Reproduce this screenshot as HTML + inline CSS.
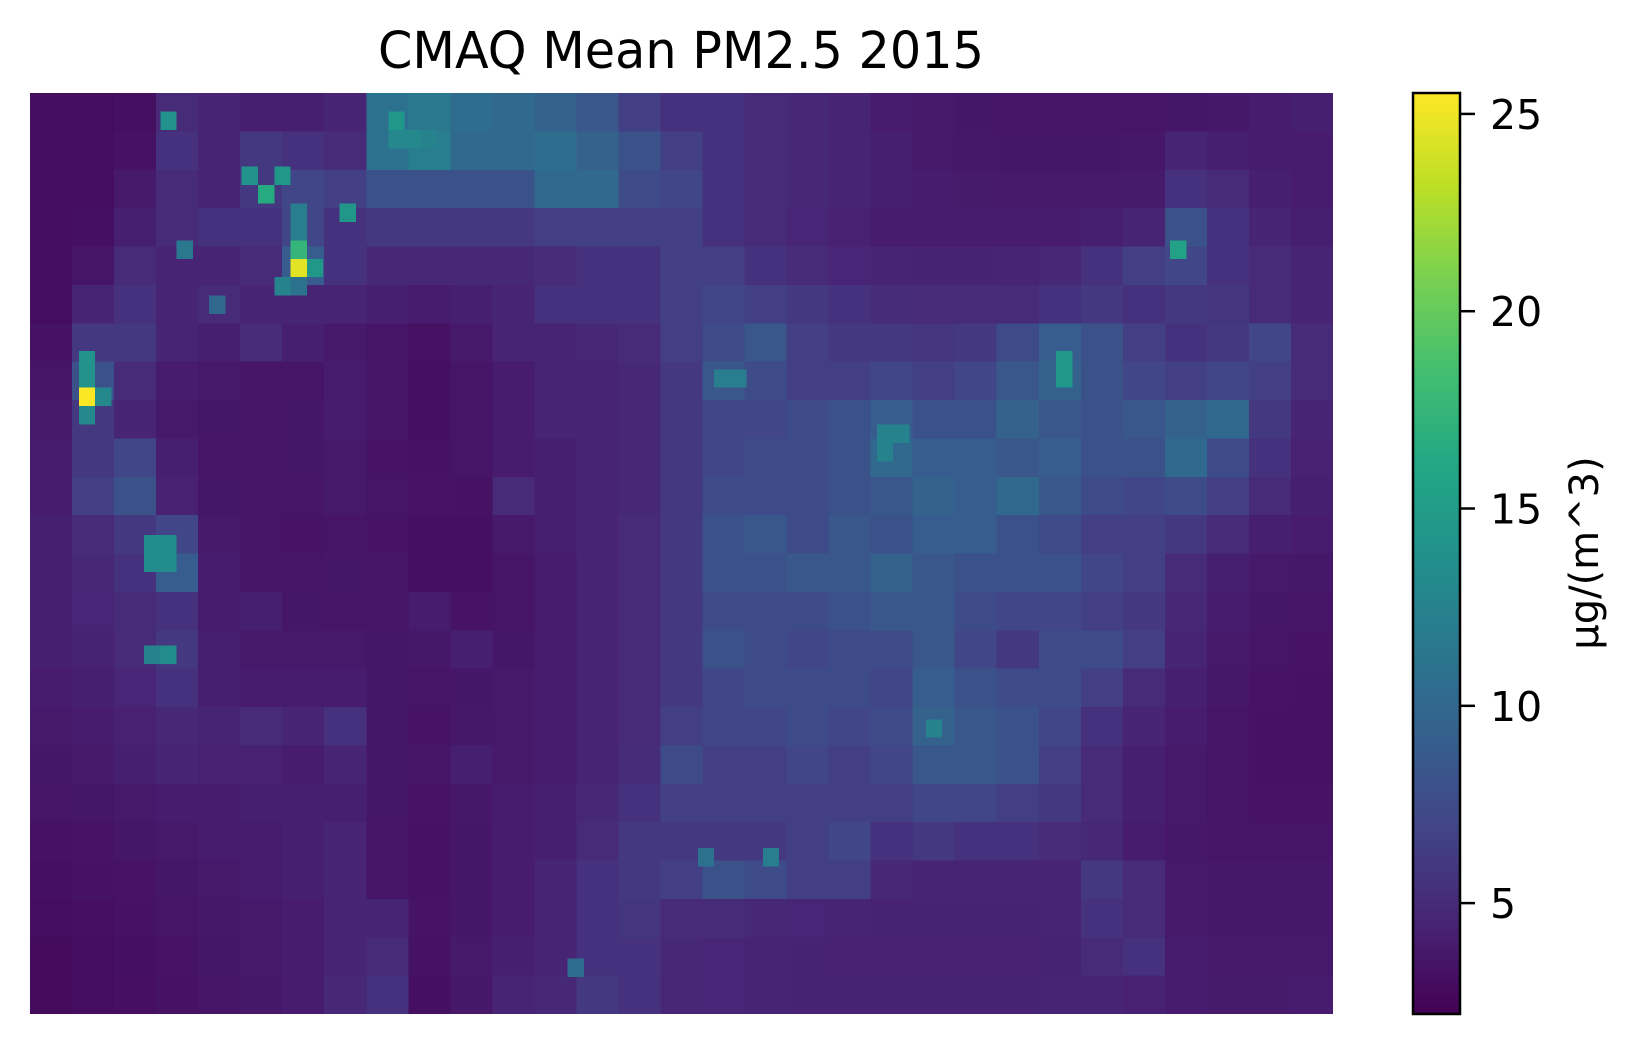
<!DOCTYPE html>
<html><head><meta charset="utf-8"><style>
html,body{margin:0;padding:0;background:#fff;}
svg{display:block;font-family:"DejaVu Sans","Liberation Sans",sans-serif;}
</style></head><body>
<svg id="chart" width="1628" height="1047" viewBox="0 0 1628 1047">
<rect width="1628" height="1047" fill="#fff"/>
<text x="681" y="68" font-size="51" text-anchor="middle" textLength="606" lengthAdjust="spacingAndGlyphs" fill="#000">CMAQ Mean PM2.5 2015</text>
<g id="cells" shape-rendering="crispEdges"></g>
<g id="hot" shape-rendering="crispEdges"></g>
<defs><linearGradient id="vir" x1="0" y1="1" x2="0" y2="0"></linearGradient></defs>
<rect x="1413" y="93" width="47" height="921" fill="url(#vir)" stroke="#000" stroke-width="2.5"/>
<g id="cbticks"></g>
<text transform="translate(1598,553) rotate(-90)" font-size="40" text-anchor="middle" fill="#000">µg/(m^3)</text>
</svg>
<script>
const vmin = 2.19, vmax = 25.53;
const cbTicks = [5, 10, 15, 20, 25];
// coarse grid: 31 columns x 24 rows (µg/m^3)
const grid = [
[3.0,3.0,3.2,5.0,4.5,4.2,4.2,4.5,11,11.5,10.5,10,9.5,8.5,6.5,5.5,5.5,5.0,4.8,4.5,4.0,3.8,3.6,3.5,3.5,3.5,3.5,3.6,3.7,4.0,4.2],
[3.0,3.0,3.3,5.5,4.5,6,5.5,5,11,12,10,10,10.5,9.5,8,6.5,5.5,5,4.8,4.5,4.2,3.8,3.7,3.6,3.6,3.6,3.7,4.5,4.2,4.0,4.0],
[3.0,3.0,3.8,5,4.5,6,7,6.5,8,8,8,8,10,10,7.5,7,5.5,5,4.8,4.5,4.2,4.0,3.9,3.8,3.8,3.8,3.9,5.5,5,4.2,4.0],
[3.0,3.2,4.2,5,5.5,5.5,7,5.5,6,6,6,6,6.5,6.5,6.5,6.5,5.5,5,4.6,4.3,4.0,4.0,4.0,4.0,4.0,4.2,4.5,8,5.5,4.5,4.2],
[3.0,3.5,5,4.5,4.5,5,9,5.5,4.8,4.8,4.8,4.8,5,5.5,5.5,6.5,6.5,5.5,5,4.6,4.5,4.4,4.4,4.5,4.8,5.5,6.5,7,5.5,5,4.5],
[3.0,4.5,5.5,4.5,5.0,4.5,4.5,4.5,4.2,4.0,4.2,4.5,5.5,5.5,5.5,6.5,7,6.5,6,5.5,5.2,5.0,5.0,5.0,5.5,6,5.5,6,5.8,5.0,4.5],
[3.3,6,6,4.5,4.2,5,4.2,3.8,3.5,3.3,3.8,4.5,4.5,4.8,5,6.5,7.5,8.5,6.5,6,6,5.8,6,7.5,9,8,6.5,5.5,6,7,5],
[3.5,8,5,4,3.8,3.5,3.5,4,3.5,3.2,3.5,4,4.5,4.5,4.8,6,8.5,7.5,6.5,6.5,7,6.5,7,8.5,9.5,8,7,6.5,7,6.5,5],
[3.8,6,4.5,3.8,3.6,3.5,3.6,4,3.5,3.2,3.5,4,4.5,4.5,4.8,6,7,7,7.5,8,9,8,8,9.5,8.5,8,8.5,9.5,10,6,4.5],
[4,6,7,4.2,3.5,3.5,3.6,3.8,3.4,3.3,3.5,4,4.2,4.5,4.8,6,7,7.5,7.5,8,10,9,9,8.5,9,8,8,10,7.5,5.5,4.3],
[4,6.5,8,4.3,3.6,3.5,3.5,3.8,3.5,3.4,3.3,5,4.2,4.5,4.8,6,7.5,7.5,7.5,8,8.5,9.5,9,10,8.5,7.5,7,7.5,6.5,5,4.2],
[4.2,5,6,7,3.8,3.5,3.4,3.5,3.4,3.2,3.2,3.8,4.2,4.5,5,6,8,8.5,7.5,8.5,8,9,9,8,7.5,6.5,6.5,6,5,4.2,4],
[4.2,4.8,5.5,9,4,3.5,3.5,3.6,3.5,3.2,3.2,3.5,4,4.5,5,6,8,8,8.5,8.5,9.5,8.5,8,8,8,7,6.5,5,4.2,3.8,3.7],
[4.2,4.6,5,5.5,4,4.2,3.6,3.5,3.5,4,3.4,3.5,4,4.5,5,6,7.5,7.5,7.5,8,8.5,8.5,7.5,7,7,6.5,6,4.8,4,3.6,3.5],
[4.2,4.4,5,6,4.2,3.8,3.8,3.8,3.6,3.7,4.2,3.6,4.0,4.5,5,6,8,7.5,7,7.5,7.5,8.5,7,6,7.5,7.5,6.5,4.5,3.8,3.5,3.4],
[4.0,4.2,4.6,5.5,4.2,4,4,4,3.6,3.5,3.6,3.8,4.0,4.5,5,6,7,7.5,7.5,7.5,7,9,8,7.5,7.5,6.5,5,4.2,3.7,3.4,3.3],
[3.8,4.0,4.3,4.8,4.5,5,4.5,5.5,3.6,3.4,3.7,3.8,4.0,4.5,5,6.5,7,7,7.5,7,7.5,9.5,8.5,8,7,5.5,4.5,4.0,3.5,3.3,3.3],
[3.6,3.8,4.2,4.5,4.3,4.3,4,4.5,3.6,3.5,4.2,3.8,4.0,4.5,5.2,7.5,6.5,6.5,7,6.5,7,8.5,8.5,8,6.5,5,4.2,3.8,3.5,3.3,3.3],
[3.5,3.6,3.8,4.0,4,4.2,4.2,4.2,3.6,3.4,3.7,4.0,4.2,4.8,5.5,6.5,6.5,6.5,6.5,6.5,6.5,7,7,6.5,6,5,4.2,3.8,3.5,3.4,3.4],
[3.3,3.4,3.6,3.8,4,4,4.2,4.5,3.5,3.3,3.6,4.0,4.2,5,6,6,6,6,6.5,7,5.5,6,5.5,5.5,5,4.8,4.0,3.7,3.5,3.5,3.5],
[3.2,3.3,3.4,3.6,3.8,4,4.2,4.5,3.5,3.3,3.6,4.0,4.5,5.5,6,6.5,8,7.5,6.5,6.5,4.8,4.5,4.5,4.5,4.5,6,5,3.8,3.7,3.7,3.7],
[3.0,3.1,3.3,3.5,3.7,3.8,4,4.5,4.5,3.4,3.6,4.0,4.5,5.5,5.8,5,5,4.8,4.6,4.5,4.4,4.4,4.4,4.4,4.5,5.5,5,3.8,3.7,3.7,3.7],
[2.9,3.0,3.2,3.4,3.6,3.8,4,4.5,5,3.3,3.8,4.2,4.5,5.5,5.5,4.8,4.6,4.5,4.4,4.3,4.3,4.3,4.3,4.3,4.4,5,5.5,4.0,3.8,3.8,3.8],
[2.9,3.0,3.1,3.3,3.5,3.7,4,4.8,5.5,3.2,3.7,4.5,4.8,6,5.5,4.7,4.6,4.5,4.4,4.4,4.4,4.4,4.4,4.4,4.5,4.5,4.3,4.0,3.9,3.9,4.0]
];
// fine-grid hotspots (80 x 50 native cells)
const hotCols = [3,3,3,4,3,16,17,16,15,16,16,14,13,15,16,8,19,22,22,23,24,9,7,8,7,8,7,8,70,63,63,42,43,55,45,41,33,52,53,52,11];
const hotRows = [16,14,15,16,17,9,9,8,10,10,7,5,4,4,6,1,6,1,2,2,2,8,24,24,25,25,30,30,8,14,15,15,15,34,41,41,47,18,18,19,11];
const hotVals = [25.5,14,14,13,13,24.5,14.5,17.5,12.5,11,12,16.5,14,14.5,12,14,14.5,14.5,13,13,12.5,11.5,13.5,13.5,13.5,13.5,12.5,13.5,15.5,14.5,14.5,12,12,12.5,12,11,10.5,12.5,12.5,12.5,10];

const X0 = 30, X1 = 1333, Y0 = 93, Y1 = 1014;
const stops = ["#440154","#482475","#414487","#355f8d","#2a788e","#21918c","#22a884","#44bf70","#7ad151","#bddf26","#fde725"];
function hex(h){return [1,3,5].map(i=>parseInt(h.substr(i,2),16));}
function color(v){
  let t=(v-vmin)/(vmax-vmin); t=Math.max(0,Math.min(1,t));
  const p=t*10, i=Math.min(9,Math.floor(p)), f=p-i;
  const a=hex(stops[i]), b=hex(stops[i+1]);
  return "rgb("+a.map((c,k)=>Math.round(c+(b[k]-c)*f)).join(",")+")";
}
const NS="http://www.w3.org/2000/svg";
const nR=grid.length, nC=grid[0].length;
const xS = c => X0 + (X1-X0)*c/nC;
const yS = r => Y0 + (Y1-Y0)*r/nR;
const cellsG=document.getElementById("cells");
for(let r=0;r<nR;r++)for(let c=0;c<nC;c++){
  const el=document.createElementNS(NS,"rect");
  el.setAttribute("x",xS(c));el.setAttribute("y",yS(r));
  el.setAttribute("width",Math.min(X1,xS(c+1)+0.6)-xS(c));el.setAttribute("height",Math.min(Y1,yS(r+1)+0.6)-yS(r));
  el.setAttribute("fill",color(grid[r][c]));
  
  
  cellsG.appendChild(el);
}
const fC=80, fR=50;
const fx = c => X0 + (X1-X0)*c/fC;
const fy = r => Y0 + (Y1-Y0)*r/fR;
const hotG=document.getElementById("hot");
for(let i=0;i<hotVals.length;i++){
  const el=document.createElementNS(NS,"rect");
  el.setAttribute("x",fx(hotCols[i]));el.setAttribute("y",fy(hotRows[i]));
  el.setAttribute("width",fx(1)-fx(0));el.setAttribute("height",fy(1)-fy(0));
  el.setAttribute("fill",color(hotVals[i]));
  
  
  hotG.appendChild(el);
}
const grad=document.getElementById("vir");
stops.forEach((s,i)=>{const st=document.createElementNS(NS,"stop");st.setAttribute("offset",i/10);st.setAttribute("stop-color",s);grad.appendChild(st);});
const cy = v => Y1 - (Y1-Y0)*(v-vmin)/(vmax-vmin);
const tg=document.getElementById("cbticks");
cbTicks.forEach(v=>{
  const ln=document.createElementNS(NS,"line");
  ln.setAttribute("x1",1460);ln.setAttribute("x2",1475);ln.setAttribute("y1",cy(v));ln.setAttribute("y2",cy(v));
  ln.setAttribute("stroke","#000");ln.setAttribute("stroke-width",2.5);
  
  
  tg.appendChild(ln);
  const tx=document.createElementNS(NS,"text");
  tx.setAttribute("x",1490);tx.setAttribute("y",cy(v)+15);tx.setAttribute("font-size",41);
  tx.textContent=v;
  
  
  tg.appendChild(tx);
});
</script>
</body></html>
